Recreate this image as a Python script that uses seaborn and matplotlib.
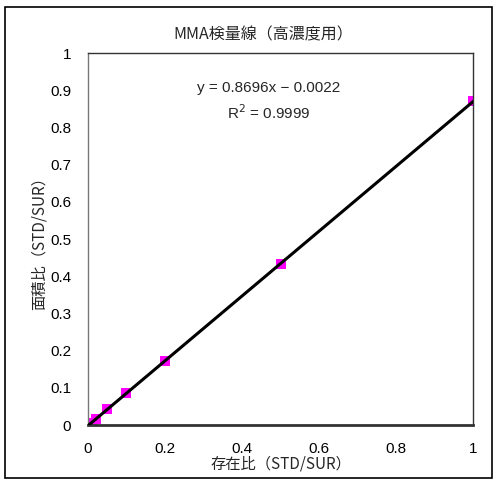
import numpy as np
import pandas as pd
import matplotlib
matplotlib.use("Agg")
import matplotlib.pyplot as plt
import seaborn as sns
from matplotlib.patches import Rectangle

# data
ratio_x = [0.0, 0.005, 0.01, 0.02, 0.05, 0.1, 0.2, 0.5, 1.0]
area_y = [0.0, 0.003, 0.007, 0.016, 0.042, 0.087, 0.171, 0.432, 0.871]
eq_text = "y = 0.8696x − 0.0022"
r2_text = "R$^2$ = 0.9999"
title = "MMA検量線（高濃度用）"
xlabel = "存在比（STD/SUR）"
ylabel = "面積比（STD/SUR）"

df = pd.DataFrame({"x": ratio_x, "y": area_y})

sns.set_style("white")
plt.rcParams['font.family'] = ['Liberation Sans', 'Noto Sans CJK JP']
cjk = ['Noto Sans CJK JP', 'Liberation Sans']

fig = plt.figure(figsize=(4.97, 4.82), dpi=100)
ax = fig.add_axes([0.177, 0.118, 0.775, 0.772])

# trend line + markers
sns.regplot(data=df, x="x", y="y", ax=ax, ci=None, scatter=False,
            line_kws={"color": "black", "lw": 2.2, "zorder": 3})
sns.scatterplot(data=df, x="x", y="y", ax=ax, marker="s", s=55,
                color="#ff00ff", edgecolor="#ff00ff", linewidth=0, zorder=2)

ax.set_xlim(0, 1)
ax.set_ylim(0, 1)
ax.set_xticks(np.arange(0, 1.01, 0.2))
ax.set_yticks(np.arange(0, 1.01, 0.1))
ax.set_xticklabels(["0", "0.2", "0.4", "0.6", "0.8", "1"])
ax.set_yticklabels(["0"] + [f"{v:.1f}" for v in np.arange(0.1, 0.95, 0.1)] + ["1"])
ax.tick_params(direction="in", length=4, labelsize=11, colors="black", pad=12)
ax.tick_params(axis="y", length=0)
for sp in ["left", "right", "top"]:
    ax.spines[sp].set_color("#333333")
    ax.spines[sp].set_linewidth(1.0)
ax.spines["bottom"].set_color("#333333")
ax.spines["bottom"].set_linewidth(2.0)
ax.spines["left"].set_color("#777777")

ax.set_xlabel(xlabel, fontsize=11, labelpad=0, family=cjk)
ax.set_ylabel(ylabel, fontsize=11, labelpad=2, family=cjk)

ax.text(0.47, 0.906, eq_text, fontsize=11, ha="center", va="center")
ax.text(0.47, 0.84, r2_text, fontsize=11, ha="center", va="center")

fig.text(0.53, 0.927, title, fontsize=11.5, ha="center", va="center", family=cjk)

# outer chart border
fig.patches.append(Rectangle((0.01, 0.008), 0.98, 0.977, transform=fig.transFigure,
                             fill=False, edgecolor="black", lw=1.2))

fig.savefig("out.png", dpi=100)
